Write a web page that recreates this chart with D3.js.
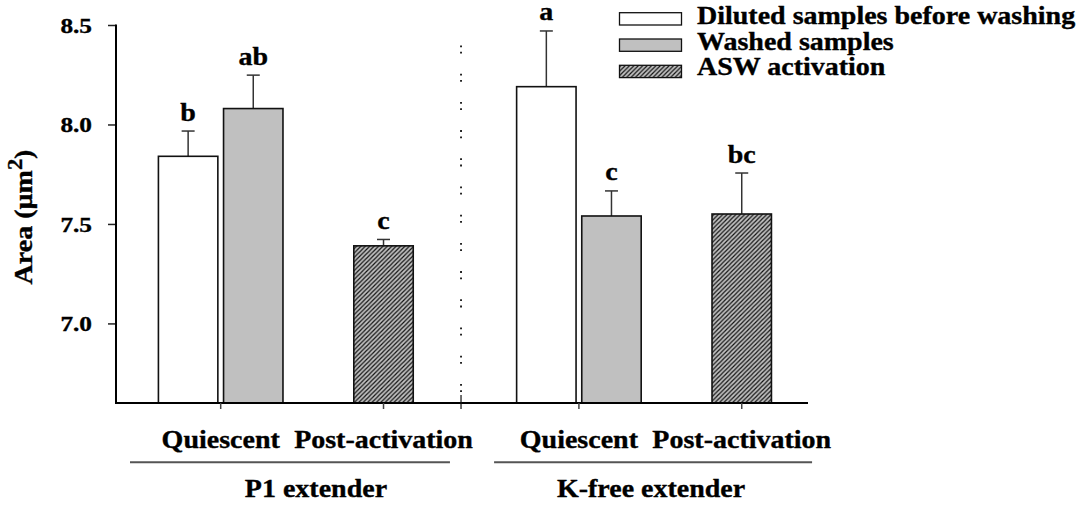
<!DOCTYPE html>
<html>
<head>
<meta charset="utf-8">
<script src="https://cdn.jsdelivr.net/npm/d3@7"></script>
<style>
  html, body { margin: 0; padding: 0; background: #fff; }
  svg { display: block; }
  text { font-family: "Liberation Serif", "Times New Roman", serif; font-weight: bold; fill: #000;
         stroke: #000; stroke-width: 0.35px; }
</style>
</head>
<body>
<svg id="chart" width="1083" height="508"></svg>
<script>
// ---- data ----
const extenders = ["P1 extender", "K-free extender"];
const conditions = ["Quiescent", "Post-activation"];
const seriesNames = ["Diluted samples before washing", "Washed samples", "ASW activation"];

// one entry per bar
const barExtender  = ["P1 extender", "P1 extender", "P1 extender", "K-free extender", "K-free extender", "K-free extender"];
const barCondition = ["Quiescent", "Quiescent", "Post-activation", "Quiescent", "Quiescent", "Post-activation"];
const barSeries    = ["Diluted samples before washing", "Washed samples", "ASW activation",
                      "Diluted samples before washing", "Washed samples", "ASW activation"];
const barMean      = [7.84, 8.08, 7.39, 8.19, 7.54, 7.55];
const barError     = [0.127, 0.168, 0.032, 0.28, 0.126, 0.206];
const barLetter    = ["b", "ab", "c", "a", "c", "bc"];

const yTicks = [7.0, 7.5, 8.0, 8.5];
const yDomain = [6.6, 8.5];

// ---- layout ----
const svg = d3.select("#chart");
const plotLeft = 116, plotRight = 808, plotTop = 25, plotBottom = 403;
const stretch = 1.12;

const y = d3.scaleLinear().domain(yDomain).range([plotBottom, plotTop]);
// slot units: conditions one unit apart, extenders 2.2 units apart
const x = d3.scaleLinear().domain([-0.643, 3.607]).range([plotLeft, plotRight]);
const slot = (ext, cond) => extenders.indexOf(ext) * 2.2 + conditions.indexOf(cond);
const unit = x(1) - x(0);
const barW = 0.365 * unit;
const pairOffset = 0.2 * unit;

const fills = {
  "Diluted samples before washing": "#ffffff",
  "Washed samples": "#c0c0c0",
  "ASW activation": "url(#hatch)"
};

// diagonal hatch for the activation bars
const defs = svg.append("defs");
const pat = defs.append("pattern")
  .attr("id", "hatch").attr("patternUnits", "userSpaceOnUse")
  .attr("width", 4.4).attr("height", 4.4);
pat.append("rect").attr("width", 4.4).attr("height", 4.4).attr("fill", "#c0c0c0");
pat.append("path")
  .attr("d", "M-1.1,1.1 L1.1,-1.1 M0,4.4 L4.4,0 M3.3,5.5 L5.5,3.3")
  .attr("stroke", "#111").attr("stroke-width", 1.2);

function label(g, tx, ty, str, anchor, size, sx) {
  return g.append("text")
    .attr("transform", `translate(${tx},${ty}) scale(${sx || stretch},1)`)
    .attr("text-anchor", anchor)
    .style("font-size", size + "px")
    .text(str);
}

// bar centre: quiescent pairs sit either side of the tick, activation bars on it
function barCenter(i) {
  const cx = x(slot(barExtender[i], barCondition[i]));
  if (barCondition[i] === "Quiescent") {
    return barSeries[i] === seriesNames[0] ? cx - pairOffset : cx + pairOffset;
  }
  return cx;
}

const idx = d3.range(barMean.length);
const plot = svg.append("g");

// error bars (upper side only)
plot.selectAll("line.err").data(idx).join("line")
  .attr("class", "err")
  .attr("x1", i => barCenter(i)).attr("x2", i => barCenter(i))
  .attr("y1", i => y(barMean[i])).attr("y2", i => y(barMean[i] + barError[i]))
  .attr("stroke", "#333").attr("stroke-width", 1.5);
plot.selectAll("line.cap").data(idx).join("line")
  .attr("class", "cap")
  .attr("x1", i => barCenter(i) - 6.5).attr("x2", i => barCenter(i) + 6.5)
  .attr("y1", i => y(barMean[i] + barError[i])).attr("y2", i => y(barMean[i] + barError[i]))
  .attr("stroke", "#333").attr("stroke-width", 1.5);

// bars
plot.selectAll("rect.bar").data(idx).join("rect")
  .attr("class", "bar")
  .attr("x", i => barCenter(i) - barW / 2)
  .attr("width", barW)
  .attr("y", i => y(barMean[i]))
  .attr("height", i => y(yDomain[0]) - y(barMean[i]))
  .attr("fill", i => fills[barSeries[i]])
  .attr("stroke", "#111").attr("stroke-width", 1.6);

// significance letters
idx.forEach(i => {
  label(plot, barCenter(i), y(barMean[i] + barError[i]) - 10.5, barLetter[i], "middle", 25);
});

// y axis
const yAxis = svg.append("g").attr("transform", `translate(${plotLeft},0)`)
  .call(d3.axisLeft(y).tickValues(yTicks).tickFormat(d3.format(".1f")).tickSize(8).tickPadding(0));
yAxis.select(".domain").remove();
yAxis.selectAll(".tick line").attr("stroke", "#222").attr("stroke-width", 1.5);
yAxis.selectAll(".tick text").remove();
yTicks.forEach(v => label(yAxis, -24, y(v) + 8, d3.format(".1f")(v), "end", 22, 1.15));
svg.append("line").attr("x1", plotLeft).attr("x2", plotLeft).attr("y1", plotTop - 0.5).attr("y2", plotBottom + 1)
  .attr("stroke", "#000").attr("stroke-width", 2);

// x axis
svg.append("line").attr("x1", plotLeft - 1).attr("x2", plotRight).attr("y1", plotBottom).attr("y2", plotBottom)
  .attr("stroke", "#000").attr("stroke-width", 2);
extenders.forEach(ext => conditions.forEach(cond => {
  const cx = x(slot(ext, cond));
  svg.append("line").attr("x1", cx).attr("x2", cx).attr("y1", plotBottom).attr("y2", plotBottom + 6)
    .attr("stroke", "#444").attr("stroke-width", 1.5);
  label(svg, cx, 448.3, cond, "middle", 25);
}));

// dotted divider between the two extenders
const divX = x(1.476);
svg.append("line").attr("x1", divX).attr("x2", divX).attr("y1", 45.5).attr("y2", 395)
  .attr("stroke", "#111").attr("stroke-width", 1.8)
  .attr("stroke-dasharray", "1.8,4.5,1.8,20.1");
svg.append("line").attr("x1", divX).attr("x2", divX).attr("y1", 395).attr("y2", 409)
  .attr("stroke", "#111").attr("stroke-width", 1.2);

// extender group labels with rules
const groupLines = [[x(-0.557), x(1.408)], [x(1.679), x(3.632)]];
const groupLabelX = [x(0.585), x(2.643)];
extenders.forEach((ext, k) => {
  svg.append("line").attr("x1", groupLines[k][0]).attr("x2", groupLines[k][1])
    .attr("y1", 462.3).attr("y2", 462.3).attr("stroke", "#555").attr("stroke-width", 2);
  label(svg, groupLabelX[k], 496.7, ext, "middle", 25);
});

// y axis title
const yt = svg.append("text")
  .attr("transform", `translate(32,217) rotate(-90) scale(${stretch},1)`)
  .attr("text-anchor", "middle")
  .style("font-size", "25px");
yt.append("tspan").text("Area (µm");
yt.append("tspan").attr("dy", -10).style("font-size", "20px").text("2");
yt.append("tspan").attr("dy", 10).text(")");

// legend
const legend = svg.append("g");
seriesNames.forEach((name, k) => {
  const ly = 12.7 + k * 26.3;
  legend.append("rect").attr("x", 619.5).attr("y", ly).attr("width", 62).attr("height", 12.3)
    .attr("fill", fills[name]).attr("stroke", "#111").attr("stroke-width", 1.3);
  label(legend, 697, 24.3 + k * 25.5, name, "start", 25);
});
</script>
</body>
</html>
